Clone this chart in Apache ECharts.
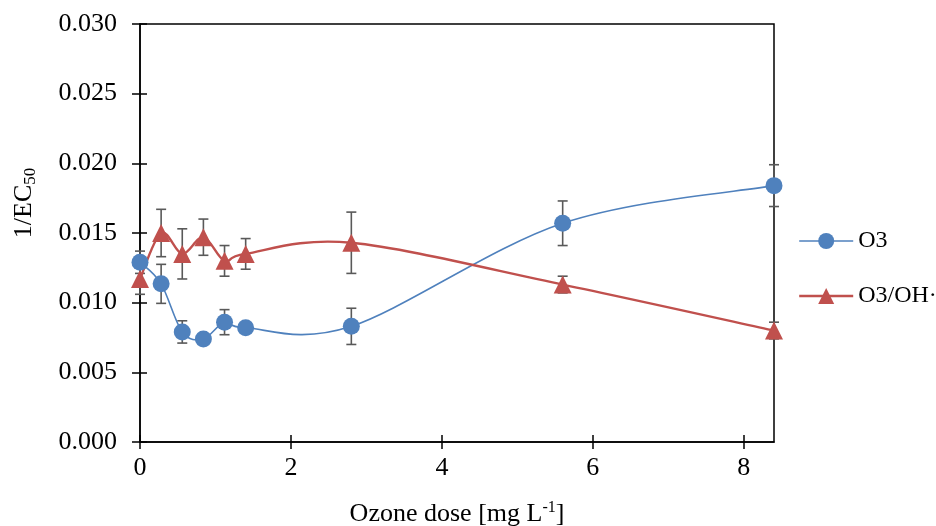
<!DOCTYPE html>
<html>
<head>
<meta charset="utf-8">
<script src="https://cdn.jsdelivr.net/npm/echarts@6/dist/echarts.min.js"></script>
<style>
html, body { margin: 0; padding: 0; background: #fff; }
#demo { width: 936px; height: 526px; }
</style>
</head>
<body>
<div id="demo"></div>
<script>
// 数据：臭氧投加量和 1/EC50
var doses = [0, 0.28, 0.56, 0.84, 1.12, 1.4, 2.8, 5.6, 8.4];
var o3 = [0.0129, 0.01135, 0.0079, 0.0074, 0.0086, 0.0082, 0.0083, 0.0157, 0.0184];
var o3Err = [0.0008, 0.0014, 0.0008, 0.0003, 0.0009, 0.0002, 0.0013, 0.0016, 0.0015];
var o3oh = [0.0117, 0.0150, 0.0135, 0.0147, 0.0130, 0.0135, 0.0143, 0.0113, 0.0080];
var o3ohErr = [0.0011, 0.0017, 0.0018, 0.0013, 0.0011, 0.0011, 0.0022, 0.0006, 0.0006];
var xTicks = [0, 2, 4, 6, 8];
var seriesNames = ['O3', 'O3/OH·'];
var colors = ['#4F81BD', '#C0504D'];

var font = 'Liberation Serif';
var fs = 26;

function pairs(ys) {
    var arr = [];
    for (var i = 0; i < doses.length; i++) {
        arr.push([doses[i], ys[i]]);
    }
    return arr;
}
function errData(ys, es) {
    var arr = [];
    for (var i = 0; i < doses.length; i++) {
        arr.push([doses[i], ys[i] - es[i], ys[i] + es[i]]);
    }
    return arr;
}
// 误差线
function errRender(params, api) {
    var x = api.value(0);
    var top = api.coord([x, api.value(2)]);
    var bot = api.coord([x, api.value(1)]);
    var w = 5;
    var st = { stroke: '#595959', lineWidth: 1.6 };
    return {
        type: 'group',
        children: [
            { type: 'line', shape: { x1: top[0], y1: top[1], x2: bot[0], y2: bot[1] }, style: st },
            { type: 'line', shape: { x1: top[0] - w, y1: top[1], x2: top[0] + w, y2: top[1] }, style: st },
            { type: 'line', shape: { x1: bot[0] - w, y1: bot[1], x2: bot[0] + w, y2: bot[1] }, style: st }
        ]
    };
}
// 平滑曲线（类似 Excel 的平滑线），每段一条贝塞尔曲线
function makeCurve(ys, color, width) {
    return function (params, api) {
        var i = params.dataIndex;
        var n = doses.length;
        if (i >= n - 1) return { type: 'group', children: [] };
        function p(k) {
            k = Math.max(0, Math.min(n - 1, k));
            return api.coord([doses[k], ys[k]]);
        }
        var p0 = p(i - 1), p1 = p(i), p2 = p(i + 1), p3 = p(i + 2);
        return {
            type: 'bezierCurve',
            shape: {
                x1: p1[0], y1: p1[1], x2: p2[0], y2: p2[1],
                cpx1: p1[0] + (p2[0] - p0[0]) / 6, cpy1: p1[1] + (p2[1] - p0[1]) / 6,
                cpx2: p2[0] - (p3[0] - p1[0]) / 6, cpy2: p2[1] - (p3[1] - p1[1]) / 6
            },
            style: { stroke: color, lineWidth: width, fill: null }
        };
    };
}

var chartDom = document.getElementById('demo');
var myChart = echarts.init(chartDom);
var option;
var xBase = {
    type: 'value', min: 0, max: 8.4, position: 'bottom',
    splitLine: { show: false }
};
var yBase = {
    type: 'value', min: 0, max: 0.03, interval: 0.005, position: 'left',
    splitLine: { show: false }
};
option = {
    animation: false,
    textStyle: { fontFamily: font },
    grid: {
        left: 140, top: 24, right: 162, bottom: 84,
        outerBoundsMode: 'none', containLabel: false,
        show: true, borderColor: '#000', borderWidth: 1.5
    },
    legend: {
        data: [
            { name: seriesNames[0], lineStyle: { color: colors[0], width: 1.6, opacity: 1 } },
            { name: seriesNames[1], lineStyle: { color: colors[1], width: 2.4, opacity: 1 } }
        ],
        orient: 'vertical',
        left: 793, top: 224,
        itemWidth: 54, itemHeight: 20, itemGap: 31,
        textStyle: { fontFamily: font, fontSize: 24, color: '#000' }
    },
    xAxis: [
        Object.assign({}, xBase, {
            name: 'Ozone dose [mg L{sup|-1}]',
            nameLocation: 'middle', nameGap: 58,
            nameTextStyle: {
                fontFamily: font, fontSize: fs, color: '#000',
                rich: { sup: { fontFamily: font, fontSize: 16, color: '#000', padding: [0, 0, 12, 0] } }
            },
            axisLine: { lineStyle: { color: '#000', width: 1.5 } },
            axisTick: { length: 7, customValues: xTicks, lineStyle: { color: '#000', width: 1.5 } },
            axisLabel: { customValues: xTicks, margin: 13, fontFamily: font, fontSize: fs, color: '#000' }
        }),
        Object.assign({}, xBase, {
            axisLine: { show: false },
            axisTick: { inside: true, length: 7, customValues: xTicks, lineStyle: { color: '#000', width: 1.5 } },
            axisLabel: { show: false }
        })
    ],
    yAxis: [
        Object.assign({}, yBase, {
            name: '1/EC{sub|50}',
            nameLocation: 'middle', nameGap: 101,
            nameTextStyle: {
                fontFamily: font, fontSize: fs, color: '#000',
                padding: [0, 0, 0, 60],
                rich: { sub: { fontFamily: font, fontSize: 17, color: '#000', padding: [12, 0, 0, 0] } }
            },
            axisLine: { lineStyle: { color: '#000', width: 1.5 } },
            axisTick: { length: 8, lineStyle: { color: '#000', width: 1.5 } },
            axisLabel: {
                margin: 23, fontFamily: font, fontSize: fs, color: '#000',
                formatter: function (v) { return v.toFixed(3); }
            }
        }),
        Object.assign({}, yBase, {
            axisLine: { show: false },
            axisTick: { inside: true, length: 7, lineStyle: { color: '#000', width: 1.5 } },
            axisLabel: { show: false }
        })
    ],
    series: [
        {
            type: 'custom', name: 'errO3', renderItem: errRender,
            data: errData(o3, o3Err), encode: { x: 0, y: [1, 2] }, z: 1, silent: true
        },
        {
            type: 'custom', name: 'errO3OH', renderItem: errRender,
            data: errData(o3oh, o3ohErr), encode: { x: 0, y: [1, 2] }, z: 1, silent: true
        },
        {
            type: 'custom', name: 'curveO3', renderItem: makeCurve(o3, colors[0], 1.6),
            data: pairs(o3), encode: { x: 0, y: 1 }, z: 2, silent: true
        },
        {
            type: 'custom', name: 'curveO3OH', renderItem: makeCurve(o3oh, colors[1], 2.4),
            data: pairs(o3oh), encode: { x: 0, y: 1 }, z: 2, silent: true
        },
        {
            name: seriesNames[0], type: 'line', data: pairs(o3),
            symbol: 'circle', symbolSize: 17, z: 4,
            itemStyle: { color: colors[0] },
            lineStyle: { color: colors[0], width: 1.6, opacity: 0 }
        },
        {
            name: seriesNames[1], type: 'line', data: pairs(o3oh),
            symbol: 'triangle', symbolSize: 18, z: 3,
            itemStyle: { color: colors[1] },
            lineStyle: { color: colors[1], width: 2.4, opacity: 0 }
        }
    ]
};
option && myChart.setOption(option);
</script>
</body>
</html>
